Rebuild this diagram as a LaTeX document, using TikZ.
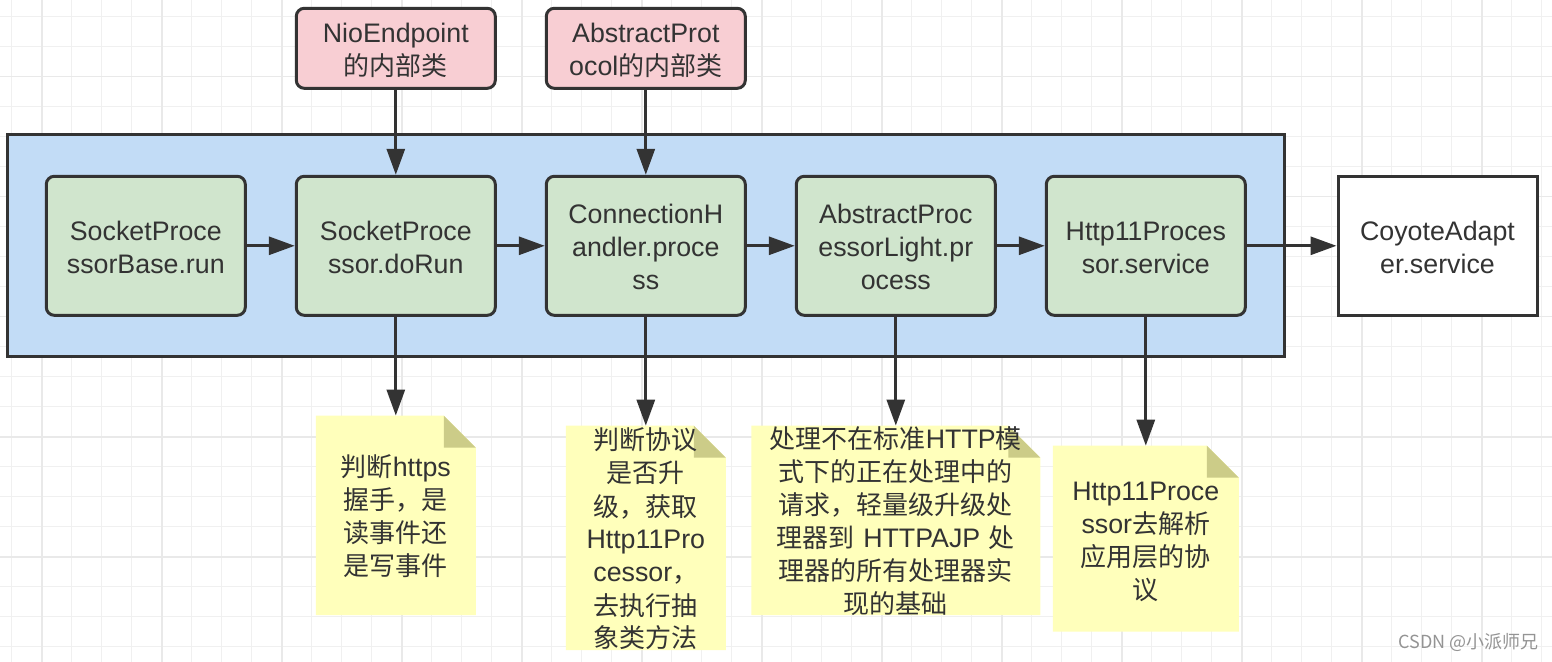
\documentclass[tikz,border=0pt]{standalone}
\usepackage{fontspec}
\setmainfont{Noto Sans CJK SC}
\newfontfamily\enfont[Scale=1.03]{Liberation Sans}
\newcommand\latn[1]{{\enfont #1}}
\newcommand\topstrut{\rule[-0.3\baselineskip]{0pt}{\dimexpr\baselineskip+4.5pt\relax}}
\usetikzlibrary{arrows.meta,backgrounds}
\definecolor{ink}{HTML}{333333}
\definecolor{blu}{HTML}{C2DCF6}
\definecolor{grn}{HTML}{D0E5CD}
\definecolor{pnk}{HTML}{F8CED3}
\definecolor{notebg}{HTML}{FFFFBB}
\definecolor{foldbg}{HTML}{CCCC88}
\definecolor{gridc}{HTML}{F0F0F0}
\definecolor{gridd}{HTML}{E9E9E9}
\begin{document}
\begin{tikzpicture}[x=0.5pt,y=-0.5pt,
  txt/.style={align=center, text=ink, font=\fontsize{13}{16.5}\selectfont,
    execute at begin node=\topstrut, execute at end node=\strut},
  boxbase/.style={txt, draw=ink, line width=1.5pt, inner sep=1pt, text width=96pt},
  gbox/.style={boxbase, fill=grn, rounded corners=4pt, minimum width=99.5pt, minimum height=69.5pt},
  pbox/.style={boxbase, fill=pnk, rounded corners=4pt, minimum width=99.5pt, minimum height=40pt},
  wbox/.style={boxbase, fill=white, minimum width=99.5pt, minimum height=69.5pt},
  cont/.style={draw=ink, line width=1.5pt, fill=blu, minimum width=638.5pt, minimum height=111pt, inner sep=0pt},
  notebox/.style={txt, inner sep=0pt, outer sep=0pt},
  arr/.style={draw=ink, line width=1.5pt, -{Triangle[length=13pt,width=9pt]}},
  gminor/.style={draw=gridc, line width=0.5pt},
  gmajor/.style={draw=gridd, line width=0.8pt}]
\useasboundingbox (0,0) rectangle (1552,662);
\begin{scope}[on background layer]
  \fill[white] (0,0) rectangle (1552,662);
  \foreach \i in {0,...,51} {\draw[gminor] ({11.7+30*\i},0) -- ({11.7+30*\i},662);}
  \foreach \i in {0,...,21} {\draw[gminor] (0,{16.7+30*\i}) -- (1552,{16.7+30*\i});}
  \foreach \i in {0,...,12} {\draw[gmajor] ({41.7+120*\i},0) -- ({41.7+120*\i},662);}
  \foreach \i in {0,...,4} {\draw[gmajor] (0,{76.7+120*\i}) -- (1552,{76.7+120*\i});}
\end{scope}

% container
\node[cont] (ct) at (645.8,245.6) {};

% top pink boxes
\node[pbox] (p1) at (395.8,48.3) {\latn{NioEndpoint}\\的内部类};
\node[pbox] (p2) at (645.8,48.3) {\latn{AbstractProt}\\\latn{ocol}的内部类};

% green boxes
\node[gbox] (g1) at (145.8,245.8) {\latn{SocketProce}\\\latn{ssorBase.run}};
\node[gbox] (g2) at (395.8,245.8) {\latn{SocketProce}\\\latn{ssor.doRun}};
\node[gbox] (g3) at (645.8,245.8) {\latn{ConnectionH}\\\latn{andler.proce}\\\latn{ss}};
\node[gbox] (g4) at (895.8,245.8) {\latn{AbstractProc}\\\latn{essorLight.pr}\\\latn{ocess}};
\node[gbox] (g5) at (1145.8,245.8) {\latn{Http11Proces}\\\latn{sor.service}};
\node[wbox] (ca) at (1437.5,245.8) {\latn{CoyoteAdapt}\\\latn{er.service}};

% notes
\node[notebox, text width=80pt, minimum width=80pt, minimum height=99.7pt] (n1) at (395.8,515.3)
  {判断\latn{https}\\握手，是\\读事件还\\是写事件};
\node[notebox, text width=80pt, minimum width=80pt, minimum height=112.2pt,
      text height=11.05pt, text depth=98.95pt] (n2) at (645.8,537.9)
  {判断协议\\是否升\\级，获取\\\latn{Http11Pro}\\\latn{cessor}，\\去执行抽\\象类方法};
\node[notebox, text width=144.5pt, minimum width=144.5pt, minimum height=94.7pt,
      text height=11.05pt, text depth=82.45pt] (n3) at (895.8,520.3)
  {处理不在标准\latn{HTTP}模\\式下的正在处理中的\\请求，轻量级升级处\\理器到\latn{ HTTPAJP }处\\理器的所有处理器实\\现的基础};
\node[notebox, text width=93pt, minimum width=93pt, minimum height=93pt] (n4) at (1145.8,538.7)
  {\latn{Http11Proce}\\\latn{ssor}去解析\\应用层的协\\议};

\begin{scope}[on background layer]
  \foreach \n in {n1,n2,n3,n4} {
    \fill[notebg] (\n.south west) -- (\n.north west) -- ([xshift=-16pt]\n.north east)
      -- ([yshift=-16pt]\n.north east) -- (\n.south east) -- cycle;
    \fill[foldbg] ([xshift=-16pt]\n.north east) -- ([yshift=-16pt]\n.north east)
      -- ([xshift=-16pt,yshift=-16pt]\n.north east) -- cycle;
  }
\end{scope}

% connectors
\draw[arr] (g1.east) -- (g2.west);
\draw[arr] (g2.east) -- (g3.west);
\draw[arr] (g3.east) -- (g4.west);
\draw[arr] (g4.east) -- (g5.west);
\draw[arr] (g5.east) -- (ca.west);
\draw[arr] (p1.south) -- (g2.north);
\draw[arr] (p2.south) -- (g3.north);
\draw[arr] (g2.south) -- (n1.north);
\draw[arr] (g3.south) -- (n2.north);
\draw[arr] (g4.south) -- (n3.north);
\draw[arr] (g5.south) -- (n4.north);

% watermark
\node[text=black!42, font=\fontsize{9}{10}\selectfont, inner sep=0pt] (wm) at (1468.7,642.7) {CSDN @小派师兄};
\end{tikzpicture}
\end{document}
